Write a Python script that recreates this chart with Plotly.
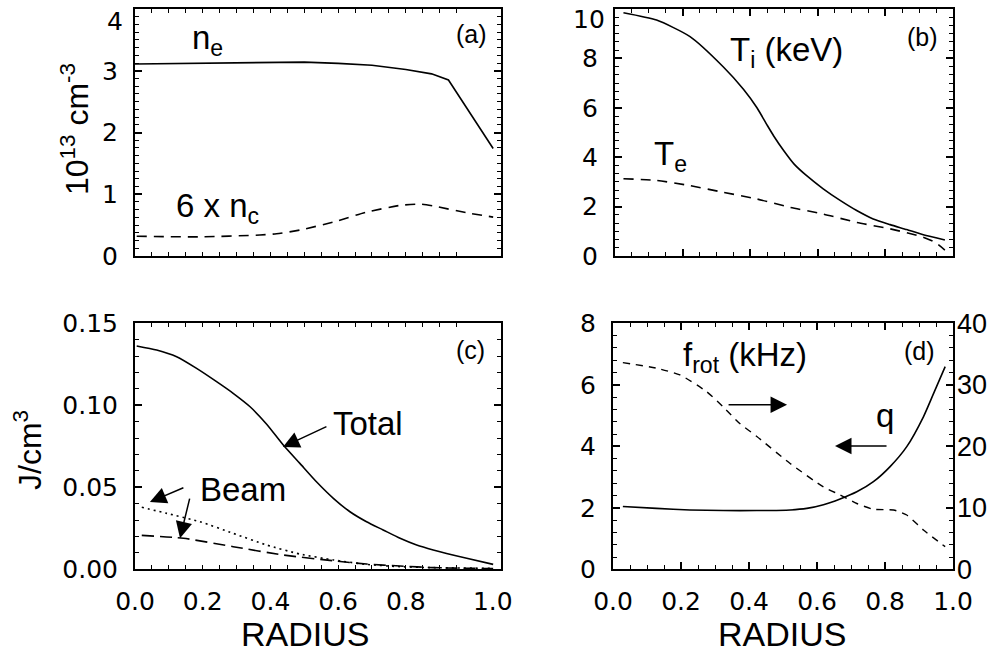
import plotly.graph_objects as go

# ---------------- data ----------------
# (a) densities, 10^13 cm^-3
ne_r = [0.0, 0.1, 0.2, 0.3, 0.4, 0.5, 0.6, 0.7, 0.8, 0.876, 0.926, 1.058]
ne_v = [3.11, 3.115, 3.12, 3.13, 3.14, 3.14, 3.12, 3.09, 3.02, 2.95, 2.85, 1.74]
nc_r = [0.005, 0.192, 0.369, 0.418, 0.487, 0.586, 0.684, 0.783, 0.842, 0.881, 0.980, 1.058]
nc6_v = [0.32, 0.31, 0.34, 0.36, 0.42, 0.55, 0.71, 0.82, 0.84, 0.81, 0.70, 0.63]

# (b) temperatures, keV
ti_r = [0.025, 0.123, 0.222, 0.320, 0.380, 0.420, 0.450, 0.470, 0.500, 0.530, 0.567, 0.616, 0.666, 0.715, 0.764, 0.814, 0.863, 0.912, 0.976]
ti_v = [9.85, 9.55, 8.88, 7.66, 6.75, 6.00, 5.30, 4.85, 4.25, 3.72, 3.25, 2.72, 2.25, 1.84, 1.50, 1.27, 1.07, 0.86, 0.65]
te_r = [0.025, 0.123, 0.222, 0.320, 0.419, 0.518, 0.616, 0.715, 0.814, 0.912, 0.947, 0.976]
te_v = [3.13, 3.06, 2.85, 2.58, 2.31, 1.97, 1.70, 1.36, 1.10, 0.76, 0.55, 0.24]

# (c) energy densities, J/cm^3
tot_r = [0.005, 0.064, 0.123, 0.182, 0.241, 0.290, 0.340, 0.389, 0.438, 0.487, 0.536, 0.586, 0.635, 0.684, 0.733, 0.783, 0.832, 0.881, 0.980, 1.058]
tot_v = [0.1362, 0.1337, 0.1296, 0.1225, 0.1144, 0.1073, 0.0991, 0.0885, 0.0758, 0.0646, 0.0534, 0.0433, 0.0351, 0.0290, 0.0240, 0.0189, 0.0148, 0.0118, 0.0067, 0.0030]
bdot_r = [0.020, 0.094, 0.192, 0.290, 0.389, 0.487, 0.586, 0.684, 0.783, 0.881, 1.058]
bdot_v = [0.0378, 0.0341, 0.0290, 0.0219, 0.0148, 0.0093, 0.0057, 0.0030, 0.0016, 0.0010, 0.0006]
bdash_r = [0.020, 0.143, 0.290, 0.438, 0.586, 0.684, 0.783, 0.881, 1.058]
bdash_v = [0.0207, 0.0189, 0.0138, 0.0087, 0.0052, 0.0032, 0.0020, 0.0010, 0.0004]

# (d) q (left axis) and f_rot in kHz (right axis)
q_r = [0.029, 0.128, 0.226, 0.324, 0.423, 0.521, 0.570, 0.619, 0.668, 0.717, 0.766, 0.815, 0.864, 0.913, 0.943, 0.977]
q_v = [2.04, 1.98, 1.93, 1.91, 1.91, 1.93, 1.98, 2.10, 2.29, 2.52, 2.85, 3.34, 3.99, 4.96, 5.72, 6.59]
frot_r = [0.029, 0.128, 0.197, 0.275, 0.324, 0.373, 0.423, 0.521, 0.619, 0.668, 0.717, 0.766, 0.825, 0.864, 0.913, 0.977]
frot_v = [33.6, 32.7, 31.6, 28.9, 26.4, 23.7, 21.6, 17.2, 13.4, 12.1, 10.7, 9.76, 9.64, 8.83, 6.39, 3.68]

# tick labels
x_ticklabels = ["0.0", "0.2", "0.4", "0.6", "0.8", "1.0"]
x_tickvals_right = [0.0, 0.2, 0.4, 0.6, 0.8, 1.0]
x_tickvals_left = [0.0, 0.2, 0.4, 0.6, 0.8, 1.057]
ya_tickvals = [0, 1, 2, 3, 4]
ya_ticklabels = ["0", "1", "2", "3", "4"]
yb_tickvals = [0, 2, 4, 6, 8, 10]
yb_ticklabels = ["0", "2", "4", "6", "8", "10"]
yc_tickvals = [0, 0.05, 0.10, 0.15]
yc_ticklabels = ["0.00", "0.05", "0.10", "0.15"]
yd_tickvals = [0, 2, 4, 6, 8]
yd_ticklabels = ["0", "2", "4", "6", "8"]
yd2_tickvals = [0, 10, 20, 30, 40]
yd2_ticklabels = ["0", "10", "20", "30", "40"]

# ---------------- figure ----------------
W, H = 995, 654
def px(x):
    return x / W
def py(y):
    return 1 - y / H

TICKFONT = dict(family="DejaVu Sans", size=25, color="black")
LABFONT = "Liberation Sans, Arial, sans-serif"
BLK = "black"

fig = go.Figure()

def line(x, y, xa, ya, dash="solid", width=1.6, shape="spline"):
    fig.add_trace(go.Scatter(x=x, y=y, xaxis=xa, yaxis=ya, mode="lines",
                             line=dict(color=BLK, width=width, dash=dash, shape=shape,
                                       smoothing=0.6 if shape == "spline" else None),
                             showlegend=False, hoverinfo="skip"))

line(ne_r, ne_v, "x", "y", shape="linear")
line(nc_r, nc6_v, "x", "y", dash="10px,7px")
line(ti_r, ti_v, "x2", "y2")
line(te_r, te_v, "x2", "y2", dash="10px,7px")
line(tot_r, tot_v, "x3", "y3")
line(bdot_r, bdot_v, "x3", "y3", dash="2px,4px")
line(bdash_r, bdash_v, "x3", "y3", dash="12px,6px")
line(q_r, q_v, "x4", "y4")
line(frot_r, frot_v, "x4", "y5", dash="7px,6px", width=1.4)

left_minor = [round(0.05 * i, 3) for i in range(1, 20)]

COMMON = dict(automargin=False, showline=True, linewidth=2, linecolor=BLK,
              showgrid=False, zeroline=False, tickfont=TICKFONT, ticklabeloverflow="allow")

def xaxis_left(dom, anchor, labels):
    return dict(domain=dom, anchor=anchor, range=[0, 1.0812],
                tickmode="array", tickvals=x_tickvals_left, ticktext=x_ticklabels,
                showticklabels=labels, ticks="",
                minor=dict(tickmode="array", tickvals=left_minor, ticks="inside",
                           ticklen=4, tickwidth=1.3, tickcolor=BLK),
                mirror="ticks", ticklabelstandoff=9, **COMMON)

def xaxis_right(dom, anchor, labels):
    return dict(domain=dom, anchor=anchor, range=[0, 1.0],
                tickmode="array", tickvals=x_tickvals_right, ticktext=x_ticklabels,
                showticklabels=labels, ticks="inside", ticklen=7, tickwidth=1.5, tickcolor=BLK,
                minor=dict(dtick=0.05, ticks="inside", ticklen=4, tickwidth=1.3, tickcolor=BLK),
                mirror="ticks", ticklabelstandoff=9, **COMMON)

def yaxis(dom, anchor, rng, tickvals, ticktext, mdtick, mirror="ticks", standoff=10):
    return dict(domain=dom, anchor=anchor, range=rng,
                tickmode="array", tickvals=tickvals, ticktext=ticktext,
                ticks="inside", ticklen=7, tickwidth=1.5, tickcolor=BLK,
                minor=dict(dtick=mdtick, ticks="inside", ticklen=4, tickwidth=1.3, tickcolor=BLK),
                mirror=mirror, ticklabelstandoff=standoff, **COMMON)

xa_dom = [px(135), px(501)]
xb_dom = [px(615), px(953)]
xd_dom = [px(613), px(953)]
ya_dom = [py(256), py(9)]
yc_dom = [py(569.3), py(323.3)]

# the topmost labels of (a) and (b) sit just below their ticks (as in the original), drawn as text below
ya_text = ya_ticklabels[:-1] + [""]
yb_text = yb_ticklabels[:-1] + [""]

fig.update_layout(
    template="none",
    width=W, height=H, margin=dict(l=0, r=0, t=0, b=0, pad=0),
    paper_bgcolor="white", plot_bgcolor="white", showlegend=False,
    xaxis=xaxis_left(xa_dom, "y", False),
    xaxis2=xaxis_right(xb_dom, "y2", False),
    xaxis3=xaxis_left(xa_dom, "y3", True),
    xaxis4=xaxis_right(xd_dom, "y4", True),
    yaxis=yaxis(ya_dom, "x", [0, 4], ya_tickvals, ya_text, 0.125),
    yaxis2=yaxis(ya_dom, "x2", [0, 10], yb_tickvals, yb_text, 1 / 3),
    yaxis3=yaxis(yc_dom, "x3", [0, 0.15], yc_tickvals, yc_ticklabels, 0.01),
    yaxis4=yaxis(yc_dom, "x4", [0, 8], yd_tickvals, yd_ticklabels, 0.4, mirror=True),
)
fig.update_layout(yaxis5=dict(overlaying="y4", anchor="x4", side="right", range=[0, 40],
                              tickmode="array", tickvals=yd2_tickvals, ticktext=yd2_ticklabels,
                              automargin=False, ticklabeloverflow="allow",
                              ticks="inside", ticklen=7, tickwidth=1.5, tickcolor=BLK,
                              minor=dict(dtick=2, ticks="inside", ticklen=4, tickwidth=1.3, tickcolor=BLK),
                              showline=False, showgrid=False, zeroline=False,
                              tickfont=dict(family=LABFONT, size=27, color=BLK),
                              ticklabelstandoff=3))

def text(t, x, y, size=33, angle=0, font=LABFONT, xanchor="center", yanchor="middle"):
    fig.add_annotation(text=t, x=px(x), y=py(y), xref="paper", yref="paper",
                       xanchor=xanchor, yanchor=yanchor, showarrow=False, textangle=angle,
                       borderpad=0, font=dict(family=font, size=size, color=BLK))

# top tick labels of (a) and (b)
text(ya_ticklabels[-1], 124, 21, 25, font="DejaVu Sans", xanchor="right")
text(yb_ticklabels[-1], 606, 19, 25, font="DejaVu Sans", xanchor="right")

# panel tags
text("(a)", 471, 34, 25)
text("(b)", 922, 37, 25)
text("(c)", 470, 350, 25)
text("(d)", 919, 351, 25)

# curve labels
text("n<sub>e</sub>", 207, 40)
text("6 x n<sub>c</sub>", 217, 208)
text("T<sub>i</sub> (keV)", 786, 52)
text("T<sub>e</sub>", 670, 156)
text("Total", 368, 423)
text("Beam", 243, 489)
text("f<sub>rot</sub> (kHz)", 745, 357)
text("q", 885, 415)

# axis titles
text("RADIUS", 305, 654, 34, yanchor="bottom")
text("RADIUS", 782, 654, 34, yanchor="bottom")
text("10<sup>13</sup> cm<sup>-3</sup>", 75, 129, 32, -90)
text("J/cm<sup>3</sup>", 28, 450, 32, -90)

# arrows
def arrow(x, y, xr, yr, ax, ay):
    fig.add_annotation(x=x, y=y, xref=xr, yref=yr, ax=ax, ay=ay, axref="pixel", ayref="pixel",
                       text="", showarrow=True, arrowhead=2, arrowsize=2.2, arrowwidth=1.5,
                       arrowcolor=BLK)

arrow(0.437, 0.0746, "x3", "y3", 45, -21)
arrow(0.044, 0.041, "x3", "y3", 35, -15)
arrow(0.133, 0.019, "x3", "y3", 10, -41)
arrow(0.512, 5.35, "x4", "y4", -60, 0)
arrow(0.653, 4.01, "x4", "y4", 53, 0)

fig.write_html("out.html", config={"displayModeBar": False},
               post_script="document.body.style.margin='0';document.body.style.overflow='hidden';")
